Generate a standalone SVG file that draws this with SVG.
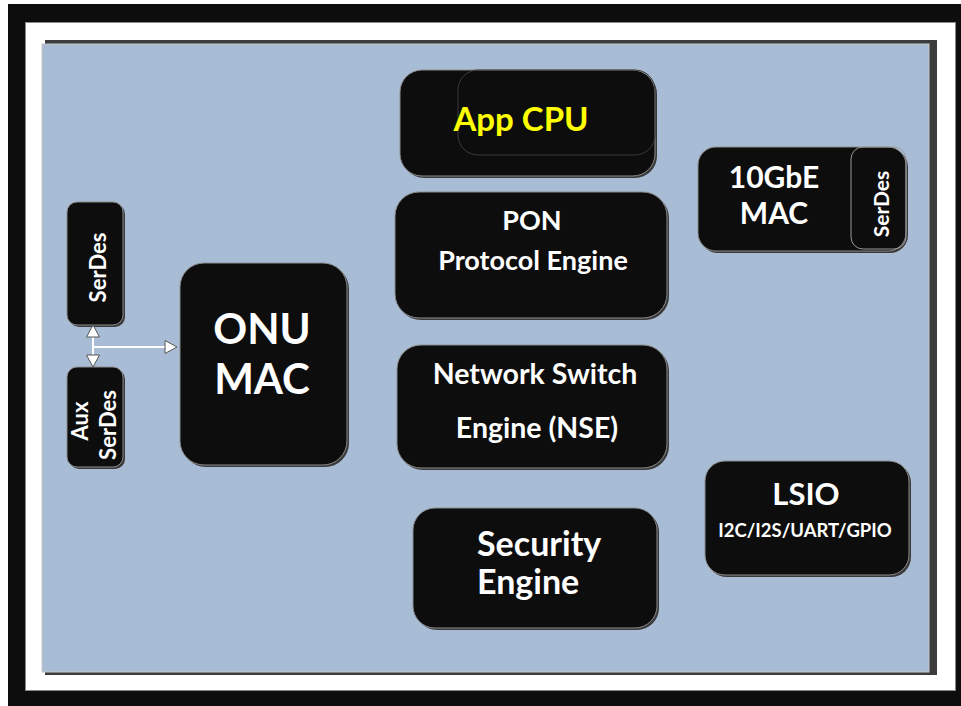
<svg xmlns="http://www.w3.org/2000/svg" width="961" height="706" viewBox="0 0 961 706">
<defs>
<style>
.sh{fill:#3a3a3a}
.nd{fill:#0d0d0d;stroke:#8c8c8c;stroke-width:1}
.t{font-family:Lato,"Open Sans","Liberation Sans",sans-serif;font-weight:bold;fill:#ffffff;text-anchor:middle}
.cn{stroke:#ffffff;stroke-width:2;fill:none}
</style>
<marker id="ah" markerUnits="userSpaceOnUse" markerWidth="14" markerHeight="16" viewBox="-1 -8 14 16" refX="0" refY="0" orient="auto">
<path d="M0,-6.5 L12,0 L0,6.5 z" fill="#ffffff" stroke="#555555" stroke-width="1"/>
</marker>
</defs>
<rect x="0" y="0" width="961" height="706" fill="#ffffff"/>
<rect x="8" y="4" width="953" height="702" fill="#0d0d0d"/>
<rect x="25.5" y="22.5" width="930" height="668" fill="#ffffff" stroke="#888888" stroke-width="1"/>
<rect x="45" y="40" width="892" height="635" fill="#3c3c3c"/>
<rect x="42" y="44" width="887" height="628" fill="#a9bcd5" stroke="#c8c8c8" stroke-width="1"/>

<g id="app-cpu">
<rect class="sh" x="402" y="72" width="255" height="106" rx="22"/>
<rect class="nd" x="400" y="70" width="255" height="106" rx="22"/>
<rect x="458" y="70" width="197" height="85" rx="20" fill="none" stroke="#3a3a3a" stroke-width="1"/>
<text class="t" x="521" y="131" font-size="33" style="fill:#ffff00">App CPU</text>
</g>

<g id="tengbe-mac">
<rect class="sh" x="700" y="149" width="208" height="104" rx="18"/>
<rect class="nd" x="698" y="147" width="208" height="104" rx="18"/>
<rect x="851" y="147" width="55" height="102" rx="12" fill="none" stroke="#9a9a9a" stroke-width="1"/>
<text class="t" x="774" y="188" font-size="30">10GbE</text>
<text class="t" x="774" y="224" font-size="30">MAC</text>
<text class="t" transform="translate(889,204) rotate(-90)" font-size="21">SerDes</text>
</g>

<g id="serdes">
<rect class="sh" x="69" y="204" width="56" height="123" rx="10"/>
<rect class="nd" x="67" y="202" width="56" height="123" rx="10"/>
<text class="t" transform="translate(106,267.5) rotate(-90)" font-size="22">SerDes</text>
</g>

<g id="aux-serdes">
<rect class="sh" x="69" y="369" width="56" height="100" rx="10"/>
<rect class="nd" x="67" y="367" width="56" height="100" rx="10"/>
<text class="t" transform="translate(88,421) rotate(-90)" font-size="22">Aux</text>
<text class="t" transform="translate(116,425) rotate(-90)" font-size="22">SerDes</text>
</g>

<g id="onu-mac">
<rect class="sh" x="182" y="265" width="167" height="202" rx="24"/>
<rect class="nd" x="180" y="263" width="167" height="202" rx="24"/>
<text class="t" x="262" y="344" font-size="42">ONU</text>
<text class="t" x="262" y="394" font-size="42">MAC</text>
</g>

<g id="pon-engine">
<rect class="sh" x="397" y="194" width="272" height="126" rx="24"/>
<rect class="nd" x="395" y="192" width="272" height="126" rx="24"/>
<text class="t" x="532" y="230" font-size="27">PON</text>
<text class="t" x="533" y="270" font-size="27">Protocol Engine</text>
</g>

<g id="nse">
<rect class="sh" x="399" y="347" width="270" height="123" rx="24"/>
<rect class="nd" x="397" y="345" width="270" height="123" rx="24"/>
<text class="t" x="535" y="384" font-size="28.5">Network Switch</text>
<text class="t" x="537" y="438" font-size="28.5">Engine (NSE)</text>
</g>

<g id="security-engine">
<rect class="sh" x="415" y="510" width="244" height="120" rx="22"/>
<rect class="nd" x="413" y="508" width="244" height="120" rx="22"/>
<text class="t" x="477" y="556" font-size="34" style="text-anchor:start">Security</text>
<text class="t" x="477" y="594" font-size="34" style="text-anchor:start">Engine</text>
</g>

<g id="lsio">
<rect class="sh" x="707" y="463" width="204" height="114" rx="20"/>
<rect class="nd" x="705" y="461" width="204" height="114" rx="20"/>
<text class="t" x="806" y="505" font-size="31">LSIO</text>
<text class="t" x="805" y="537" font-size="18.5">I2C/I2S/UART/GPIO</text>
</g>

<g id="connectors">
<path class="cn" d="M93,346 L93,337" marker-end="url(#ah)"/>
<path class="cn" d="M93,346 L93,355" marker-end="url(#ah)"/>
<path class="cn" d="M93,347 L165,347" marker-end="url(#ah)"/>
</g>
</svg>
